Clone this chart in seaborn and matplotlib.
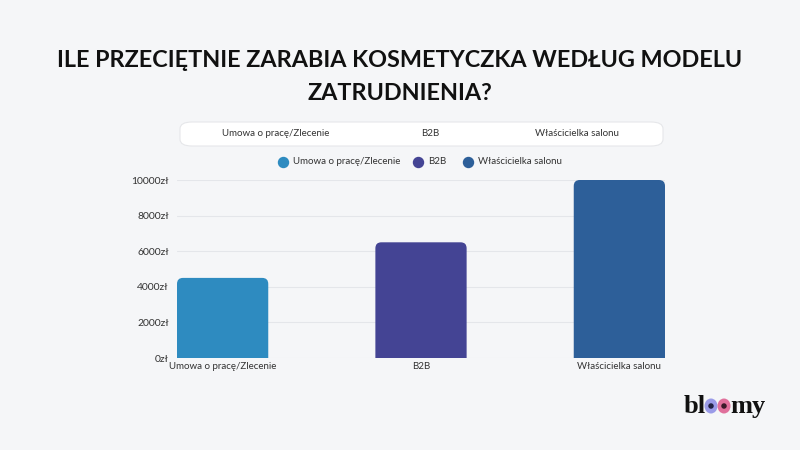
import matplotlib
matplotlib.use("Agg")
import matplotlib.pyplot as plt
import seaborn as sns
from matplotlib.patches import FancyBboxPatch, Ellipse
from matplotlib.lines import Line2D
import matplotlib.ticker as mticker

categories = ["Umowa o pracę/Zlecenie", "B2B", "Właścicielka salonu"]
values = [4500, 6500, 10000]
colors = ["#2e8bc0", "#444494", "#2d5f99"]
yticks = [0, 2000, 4000, 6000, 8000, 10000]
title = "ILE PRZECIĘTNIE ZARABIA KOSMETYCZKA WEDŁUG MODELU\nZATRUDNIENIA?"

BG = "#f5f6f8"
TXT = "#333333"
sns.set_theme(style="white")
plt.rcParams["font.family"] = ["Lato", "DejaVu Sans"]

W, H = 800, 450
fig = plt.figure(figsize=(8, 4.5), dpi=100, facecolor=BG)

def fx(px):
    return px / W

def fy(py):
    return 1 - py / H

ax = fig.add_axes([fx(177), fy(358), fx(665) - fx(177), fy(180) - fy(358)])
ax.set_facecolor(BG)
sns.barplot(x=categories, y=values, hue=categories, palette=colors,
            ax=ax, legend=False, width=0.46, saturation=1)
ax.set_xlim(-0.23, 2.23)
ax.set_ylim(0, 10000)

# round the top corners of the bars (bottom is clipped by the axes)
xpx = 2.46 / 488.0
ypx = 10000 / 178.0
for p in list(ax.patches):
    x0, w, h = p.get_x(), p.get_width(), p.get_height()
    fc = p.get_facecolor()
    p.set_visible(False)
    rb = FancyBboxPatch((x0, -600), w, h + 600,
                        boxstyle=f"round,pad=0,rounding_size={6 * xpx}",
                        mutation_aspect=ypx / xpx, facecolor=fc,
                        edgecolor="none", zorder=2)
    ax.add_patch(rb)

ax.set_yticks(yticks)
ax.yaxis.set_major_formatter(mticker.FuncFormatter(lambda v, p: f"{int(v)}zł"))
ax.grid(axis="y", color="#e4e6ea", lw=0.8)
ax.set_axisbelow(True)
for s in ax.spines.values():
    s.set_visible(False)
ax.tick_params(axis="y", labelsize=7.5, colors=TXT, length=0, pad=6)
ax.tick_params(axis="x", labelsize=7, colors=TXT, length=0, pad=3)
ax.set_xlabel("")
ax.set_ylabel("")

# title
fig.text(0.5, fy(77), title, ha="center", va="center", fontsize=16.8,
         fontweight="bold", color="#111111", linespacing=1.7)

# white rounded box with category labels
box = FancyBboxPatch((fx(180), fy(146)), fx(663) - fx(180), fy(122) - fy(146),
                     boxstyle="round,pad=0,rounding_size=0.015",
                     transform=fig.transFigure, facecolor="white",
                     edgecolor="#e6e7ea", lw=0.8, zorder=2)
fig.patches.append(box)
for lab, px in zip(categories, [276, 430, 577]):
    fig.text(fx(px), fy(134), lab, ha="center", va="center", fontsize=7,
             color=TXT, zorder=3)

# legend row
for lab, c, cx in zip(categories, colors, [283, 418, 468]):
    fig.add_artist(Line2D([fx(cx)], [fy(162)], marker="o", ls="", markersize=7.2,
                          color=c, transform=fig.transFigure))
    fig.text(fx(cx + 10), fy(162), lab, ha="left", va="center", fontsize=7,
             color=TXT)

# logo
fig.text(fx(684), fy(413), "bl", ha="left", va="baseline", fontsize=19,
         fontweight="bold", family="Liberation Serif", color="#111111")
fig.text(fx(730), fy(413), "my", ha="left", va="baseline", fontsize=19,
         fontweight="bold", family="Liberation Serif", color="#111111")
for cx, ring, dot in [(711, "#9a9be8", "#222244"), (724, "#e0709c", "#3a1a2a")]:
    fig.patches.append(Ellipse((fx(cx), fy(406)), 13 / W, 15 / H,
                               transform=fig.transFigure,
                               facecolor=ring, edgecolor="none"))
    fig.patches.append(Ellipse((fx(cx), fy(406)), 5.5 / W, 5.5 / H,
                               transform=fig.transFigure,
                               facecolor=dot, edgecolor="none"))

fig.savefig("out.png", dpi=100, facecolor=BG)
